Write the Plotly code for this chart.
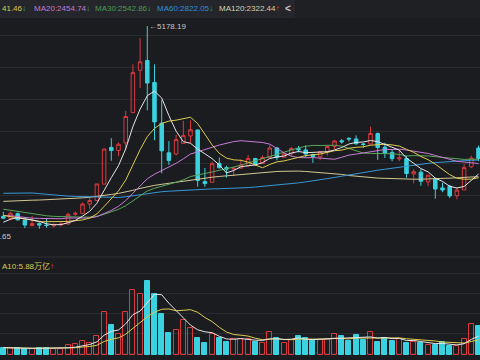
import plotly.graph_objects as go
import pandas as pd

# ---------------- data (monthly, Oct 2013 .. Apr 2019) ----------------
months = pd.period_range("2013-10", "2019-04", freq="M").strftime("%Y-%m").tolist()

opens = [2170, 2138, 2213, 2112, 2026, 2056, 2032, 2022, 2039, 2050,
         2204, 2217, 2365, 2420, 2680, 3258, 3212, 3332, 3810, 4480,
         4633, 4287, 3643, 3174, 3156, 3325, 3441, 3536, 2720, 2708,
         3008, 2940, 2917, 2932, 2974, 3083, 3005, 3102, 3252, 3105,
         3160, 3240, 3220, 3146, 3112, 3193, 3275, 3365, 3403, 3393,
         3313, 3314, 3478, 3263, 3181, 3078, 3084, 2841, 2869, 2716,
         2768, 2620, 2646, 2497, 2587, 2954, 3250]
highs = [2242, 2243, 2230, 2113, 2177, 2075, 2146, 2062, 2080, 2227,
         2248, 2391, 2482, 2683, 3239, 3406, 3336, 3836, 4572, 4986,
         5178.19, 4572, 4006, 3358, 3459, 3679, 3684, 3539, 2934, 3037,
         3100, 2970, 2960, 3070, 3141, 3095, 3134, 3301, 3265, 3175,
         3265, 3283, 3295, 3162, 3193, 3277, 3377, 3392, 3418, 3450,
         3330, 3587, 3495, 3334, 3220, 3219, 3128, 2915, 2916, 2827,
         2771, 2703, 2667, 2630, 2995, 3130, 3288]
lows = [2128, 2107, 2101, 1985, 2013, 1974, 1993, 1991, 2010, 2041,
        2175, 2212, 2290, 2413, 2677, 3049, 3121, 3227, 3809, 4200,
        3847, 3373, 2850, 2983, 3133, 3322, 3327, 2638, 2638, 2710,
        2927, 2781, 2807, 2932, 2953, 2969, 3003, 3102, 3056, 3101,
        3125, 3181, 3099, 3016, 3057, 3133, 3231, 3318, 3353, 3302,
        3254, 3307, 3063, 3092, 3041, 3041, 2782, 2691, 2653, 2644,
        2449, 2553, 2462, 2440, 2587, 2935, 3043]
closes = [2141.6, 2220.5, 2116.0, 2033.1, 2056.3, 2033.3, 2026.4, 2039.2, 2048.3, 2201.6,
          2217.2, 2363.9, 2420.2, 2682.8, 3234.7, 3210.4, 3310.3, 3747.9, 4441.7, 4611.7,
          4277.2, 3663.7, 3206.0, 3052.8, 3382.6, 3445.4, 3539.2, 2737.6, 2688.0, 3003.9,
          2938.3, 2916.6, 2929.6, 2979.3, 3085.5, 3004.7, 3100.5, 3250.0, 3103.6, 3159.2,
          3241.7, 3222.5, 3154.7, 3117.2, 3192.4, 3273.0, 3360.8, 3348.9, 3393.3, 3317.2,
          3307.2, 3480.8, 3259.4, 3168.9, 3082.2, 3095.5, 2847.4, 2876.4, 2725.3, 2821.4,
          2602.8, 2588.2, 2493.9, 2584.6, 2941.0, 3090.8, 3085.0]

# closes before the visible window (May 2011 .. Sep 2013), needed for the moving averages
prior_closes = [2743.5, 2762.1, 2701.7, 2567.3, 2359.2, 2468.3, 2333.4, 2199.4,
                2292.6, 2428.5, 2262.8, 2396.3, 2372.2, 2225.4, 2103.6, 2047.5,
                2086.2, 2068.9, 1980.1, 2269.1,
                2385.4, 2359.5, 2236.6, 2177.9, 2300.6, 1979.2, 1993.8, 2098.4, 2174.7]

ma60 = [2535, 2538, 2540, 2540, 2540, 2530, 2518, 2505, 2496, 2490,
        2486, 2482, 2479, 2476, 2474, 2471, 2469, 2480, 2497, 2514,
        2531, 2546, 2560, 2568, 2576, 2584, 2590, 2597, 2600, 2604,
        2607, 2610, 2612, 2615, 2625, 2634, 2644, 2653, 2662, 2672,
        2686, 2700, 2715, 2730, 2745, 2765, 2785, 2805, 2825, 2848,
        2868, 2885, 2900, 2915, 2932, 2950, 2968, 2982, 2995, 3008,
        3020, 3030, 3038, 3045, 3050, 3055, 3060]
ma120 = [2407, 2414, 2419, 2423, 2426, 2428, 2432, 2436, 2441, 2448,
         2455, 2463, 2472, 2483, 2500, 2517, 2533, 2555, 2582, 2612,
         2638, 2660, 2677, 2693, 2712, 2731, 2751, 2763, 2775, 2789,
         2801, 2812, 2822, 2834, 2846, 2856, 2867, 2876, 2880, 2883,
         2886, 2886, 2880, 2872, 2867, 2860, 2848, 2833, 2816, 2804,
         2790, 2783, 2775, 2771, 2766, 2762, 2760, 2758, 2758, 2760,
         2764, 2768, 2774, 2779, 2786, 2792, 2797]

# monthly turnover, 万亿
volume = [2.85, 2.61, 2.85, 2.46, 2.34, 2.85, 2.85, 2.22, 2.22, 3.78,
          4.17, 5.46, 4.80, 7.41, 16.77, 11.70, 8.07, 16.77, 25.35, 23.79,
          28.86, 23.67, 15.87, 8.70, 9.75, 13.53, 10.41, 6.75, 4.80, 8.07,
          6.51, 5.19, 6.12, 6.12, 6.24, 5.19, 4.80, 8.97, 6.51, 4.80,
          5.73, 7.41, 6.51, 5.46, 5.73, 6.36, 8.07, 7.41, 5.46, 7.68,
          5.73, 8.97, 5.07, 6.75, 5.46, 6.12, 4.80, 5.19, 4.68, 3.78,
          3.78, 5.07, 3.51, 3.51, 6.12, 12.21, 11.31]

legend_texts = ["41.46", "MA20:2454.74", "MA30:2542.86", "MA60:2822.05", "MA120:2322.44"]
legend_arrows = ["↓", "↓", "↓", "↓", "↑"]
vol_label = "A10:5.88万亿"
high_label = "←5178.19"
low_label = "←1849.65"

# ---------------- derived ----------------
allc = pd.Series(prior_closes + closes)
n0 = len(prior_closes)
ma5 = allc.rolling(5).mean().iloc[n0:].tolist()
ma10 = allc.rolling(10).mean().iloc[n0:].tolist()
ma20 = allc.rolling(20).mean().iloc[n0:].tolist()
ma30 = allc.rolling(30).mean().iloc[n0:].tolist()
vs = pd.Series(volume)
vma5 = vs.rolling(5, min_periods=1).mean().tolist()
vma10 = vs.rolling(10, min_periods=1).mean().tolist()

# ---------------- style ----------------
W, H = 480, 360
BG = "#1b1c20"
GRID = "#2a2b30"
RED = "#d93a3e"
CYAN = "#3ad1e0"
C_MA5 = "#e6e6e6"
C_MA10 = "#dccd4e"
C_MA20 = "#c77bd6"
C_MA30 = "#5aa55a"
C_MA60 = "#3597d6"
C_MA120 = "#d2c894"
FONT = "Liberation Sans, Noto Sans CJK SC, sans-serif"

PX_PER_PT = 15.8          # price points per pixel
Y_HIGH_PX = 26            # pixel row of the 5178.19 high
def price_at(py):
    return highs[20] - (py - Y_HIGH_PX) * PX_PER_PT
VOL_PER_PX = 0.39

fig = go.Figure()

fig.add_trace(go.Candlestick(
    x=months, open=opens, high=highs, low=lows, close=closes,
    increasing=dict(line=dict(color=RED, width=1), fillcolor="rgba(0,0,0,0)"),
    decreasing=dict(line=dict(color=CYAN, width=1), fillcolor=CYAN),
    whiskerwidth=0, hoverinfo="skip", xaxis="x", yaxis="y"))

for vals, col in [(ma120, C_MA120), (ma60, C_MA60), (ma30, C_MA30),
                  (ma20, C_MA20), (ma10, C_MA10), (ma5, C_MA5)]:
    fig.add_trace(go.Scatter(x=months, y=vals, mode="lines",
                             line=dict(color=col, width=1),
                             hoverinfo="skip", xaxis="x", yaxis="y"))

up = [c >= o for o, c in zip(opens, closes)]
fig.add_trace(go.Bar(
    x=months, y=volume, width=0.68,
    marker=dict(color=["rgba(0,0,0,0)" if u else CYAN for u in up],
                line=dict(color=[RED if u else CYAN for u in up], width=1)),
    hoverinfo="skip", xaxis="x2", yaxis="y2"))
fig.add_trace(go.Scatter(x=months, y=vma10, mode="lines", line=dict(color=C_MA10, width=1),
                         hoverinfo="skip", xaxis="x2", yaxis="y2"))
fig.add_trace(go.Scatter(x=months, y=vma5, mode="lines", line=dict(color=C_MA5, width=1),
                         hoverinfo="skip", xaxis="x2", yaxis="y2"))

xr = [-3.3 / 7.2, (W - 3.3) / 7.2]
axis_common = dict(type="category", range=xr, showgrid=False, zeroline=False,
                   showticklabels=False, ticks="", showline=False, fixedrange=True)

main_top, main_bot = 20, 257
vol_top, vol_bot = 258, 355
fig.update_layout(
    width=W, height=H, margin=dict(l=0, r=0, t=0, b=0),
    paper_bgcolor=BG, plot_bgcolor=BG, showlegend=False,
    bargap=0,
    xaxis=dict(**axis_common, domain=[0, 1], anchor="y", rangeslider=dict(visible=False)),
    xaxis2=dict(**axis_common, domain=[0, 1], anchor="y2", matches="x"),
    yaxis=dict(domain=[1 - main_bot / H, 1 - main_top / H],
               range=[price_at(main_bot), price_at(main_top)],
               tick0=price_at(227), dtick=32 * PX_PER_PT,
               showgrid=True, gridcolor=GRID, gridwidth=1, zeroline=False,
               showticklabels=False, ticks="", showline=False, fixedrange=True),
    yaxis2=dict(domain=[1 - vol_bot / H, 1 - vol_top / H],
                range=[0, (vol_bot - vol_top) * VOL_PER_PX],
                tick0=(vol_bot - 333) * VOL_PER_PX, dtick=20 * VOL_PER_PX,
                showgrid=True, gridcolor=GRID, gridwidth=1, zeroline=False,
                showticklabels=False, ticks="", showline=False, fixedrange=True),
)

shapes = [
    dict(type="rect", xref="paper", yref="paper", x0=0, x1=1, y0=1 - 18 / H, y1=1,
         fillcolor="#1f2024", line=dict(width=0), layer="below"),
    dict(type="rect", xref="paper", yref="paper", x0=0, x1=295 / W, y0=1 - 18 / H, y1=1,
         fillcolor="#25262b", line=dict(width=0), layer="below"),
    dict(type="line", xref="paper", yref="paper", x0=0, x1=1,
         y0=1 - 257 / H, y1=1 - 257 / H, line=dict(color="#2d2e33", width=1)),
]
fig.update_layout(shapes=shapes)

leg_colors = ["#d8cc4e", "#c07cd4", "#4c9a56", "#2f8fd8", "#d8d2a8"]
arrow_colors = {"↓": "#33b54a", "↑": "#e0403a"}
leg_x = [0, 31.5, 93, 155, 216.5]
ann = []
for t, a, c, x in zip(legend_texts, legend_arrows, leg_colors, leg_x):
    ann.append(dict(xref="paper", yref="paper", x=x / W, y=1 - 8 / H,
                    xanchor="left", yanchor="middle", showarrow=False,
                    text=f"{t}<span style='color:{arrow_colors[a]}'>{a}</span>",
                    font=dict(family=FONT, size=8, color=c)))
ann.append(dict(xref="paper", yref="paper", x=283 / W, y=1 - 8 / H,
                xanchor="left", yanchor="middle", showarrow=False, text="<b>&lt;</b>",
                font=dict(family=FONT, size=10, color="#c8c8c8")))
ann.append(dict(xref="paper", yref="paper", x=0, y=1 - 266 / H,
                xanchor="left", yanchor="middle", showarrow=False,
                text=f"{vol_label}<span style='color:#e0403a'>↑</span>",
                font=dict(family=FONT, size=8, color="#d8cc4e")))
ann.append(dict(xref="x", yref="y", x=months[20], y=highs[20],
                xanchor="left", yanchor="middle", showarrow=False, text=high_label,
                font=dict(family=FONT, size=8, color="#c8c8c8")))
ann.append(dict(xref="paper", yref="y", x=13 / W, y=1849.65,
                xanchor="right", yanchor="middle", showarrow=False, text=low_label,
                font=dict(family=FONT, size=8, color="#c8c8c8")))
fig.update_layout(annotations=ann)

fig.write_html(
    "out.html", config={"displayModeBar": False},
    post_script="document.body.style.margin='0px';document.body.style.overflow='hidden';")
